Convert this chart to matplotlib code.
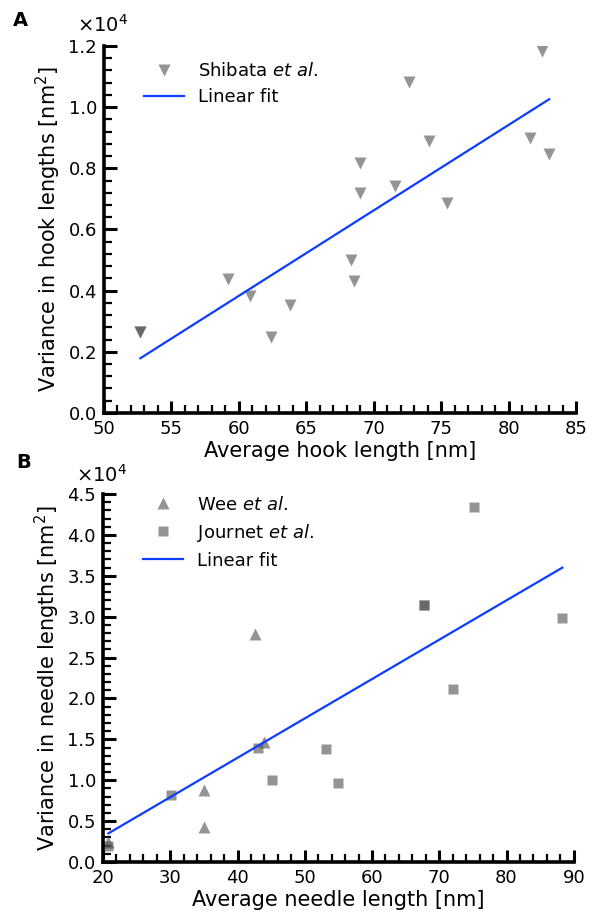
"""Variance vs average length for hooks (A) and needles (B), with linear fits."""
import numpy as np
import matplotlib
matplotlib.use('Agg')
import matplotlib.pyplot as plt
from matplotlib.ticker import MultipleLocator, FuncFormatter

# ---- panel A: hooks (Shibata et al.) ----
hook_len = [52.7, 52.7, 59.2, 60.8, 62.4, 63.8, 68.3, 68.5, 69.0, 69.0,
            71.6, 72.6, 74.1, 75.4, 81.6, 82.5, 83.0]
hook_var = [2640, 2640, 4380, 3840, 2480, 3540, 4990, 4300, 8180, 7200,
            7420, 10830, 8890, 6850, 9000, 11850, 8460]
hook_fit_x = [52.7, 83.0]
hook_fit_y = [1790, 10260]

# ---- panel B: needles ----
wee_len = [20.8, 35.0, 35.0, 44.0, 42.6]
wee_var = [2500, 8780, 4230, 14670, 27890]
jour_len = [20.8, 30.1, 43.1, 45.1, 53.1, 55.0, 67.7, 67.7, 72.0, 75.1, 88.2]
jour_var = [2000, 8250, 13980, 10080, 13860, 9670, 31460, 31460, 21180, 43400, 29900]
needle_fit_x = [20.8, 88.3]
needle_fit_y = [3500, 36000]

GREY = '0.3'
BLUE = '#0d3dff'
SCALE = 1e4

plt.rcParams['font.family'] = 'DejaVu Sans'
fig = plt.figure(figsize=(5.94, 9.11), dpi=100)
axA = fig.add_axes([0.175, 0.5467, 0.795, 0.4028])
axB = fig.add_axes([0.1734, 0.0538, 0.7926, 0.4039])


def style(ax, xmaj, xmin, ymaj, ymin, off_y):
    for s in ('top', 'right'):
        ax.spines[s].set_visible(False)
    for s in ('left', 'bottom'):
        ax.spines[s].set_linewidth(2.6)
    ax.xaxis.set_major_locator(MultipleLocator(xmaj))
    ax.xaxis.set_minor_locator(MultipleLocator(xmin))
    ax.yaxis.set_major_locator(MultipleLocator(ymaj))
    ax.yaxis.set_minor_locator(MultipleLocator(ymin))
    ax.yaxis.set_major_formatter(FuncFormatter(lambda v, p: f'{v / SCALE:.1f}'))
    ax.tick_params(which='major', direction='in', length=9, width=2.2,
                   labelsize=13, pad=5)
    ax.tick_params(which='minor', direction='in', length=6, width=1.6)
    ax.tick_params(top=False, right=False, which='both')
    # scale factor for the y axis, placed like the original
    ax.text(-0.058, off_y, r'$\times10^{4}$', transform=ax.transAxes,
            fontsize=14, ha='left', va='center')


axA.plot(hook_len, hook_var, 'v', ls='none', color=GREY, alpha=0.6, ms=8,
         mec='none', label='Shibata $\\it{et\\ al}$.')
axA.plot(hook_fit_x, hook_fit_y, color=BLUE, lw=1.6, label='Linear fit')
axA.set_xlim(50, 85)
axA.set_ylim(0, 12000)
style(axA, 5, 1, 2000, 400, 1.058)
axA.set_xlabel('Average hook length [nm]', fontsize=15, labelpad=2)
axA.set_ylabel('Variance in hook lengths [nm$^2$]', fontsize=15, labelpad=4)
axA.legend(loc='upper left', bbox_to_anchor=(0.05, 1.0), frameon=False,
           fontsize=13, numpoints=1, handlelength=2.2, handletextpad=0.8,
           labelspacing=0.45)

axB.plot(wee_len, wee_var, '^', ls='none', color=GREY, alpha=0.6, ms=8,
         mec='none', label='Wee $\\it{et\\ al}$.')
axB.plot(jour_len, jour_var, 's', ls='none', color=GREY, alpha=0.6, ms=7,
         mec='none', label='Journet $\\it{et\\ al}$.')
axB.plot(needle_fit_x, needle_fit_y, color=BLUE, lw=1.6, label='Linear fit')
axB.set_xlim(20, 90)
axB.set_ylim(0, 45000)
style(axB, 10, 2, 5000, 1000, 1.052)
axB.set_xlabel('Average needle length [nm]', fontsize=15, labelpad=2)
axB.set_ylabel('Variance in needle lengths [nm$^2$]', fontsize=15, labelpad=4)
axB.legend(loc='upper left', bbox_to_anchor=(0.05, 1.04), frameon=False,
           fontsize=13, numpoints=1, handlelength=2.2, handletextpad=0.8,
           labelspacing=0.45)

fig.text(0.022, 0.978, 'A', fontsize=14, fontweight='bold', va='center')
fig.text(0.027, 0.492, 'B', fontsize=14, fontweight='bold', va='center')

fig.savefig('out.png', dpi=100)
